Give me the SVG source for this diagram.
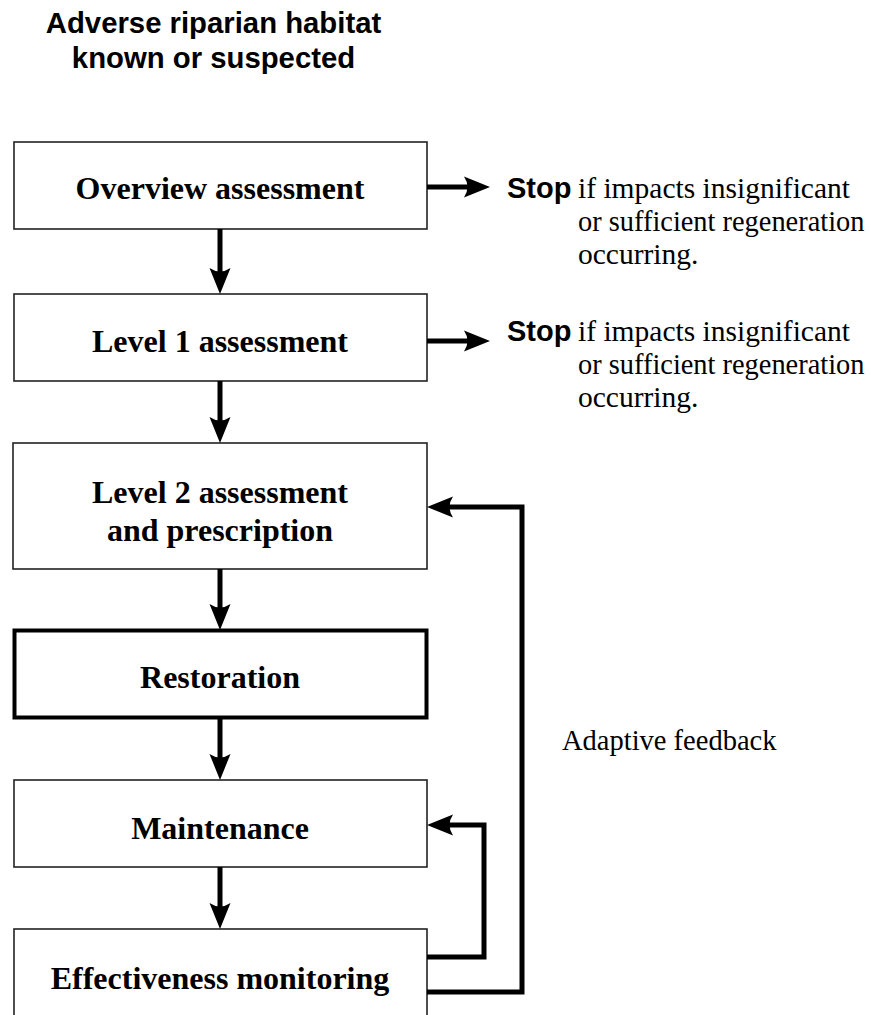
<svg xmlns="http://www.w3.org/2000/svg" width="871" height="1015" viewBox="0 0 871 1015">
<style>
.box{fill:#fff;stroke:#222;stroke-width:1.6}
.thick{fill:#fff;stroke:#000;stroke-width:4}
.lbl{font-family:"Liberation Serif","Times New Roman",serif;font-weight:bold;font-size:32px;text-anchor:middle;fill:#000}
.title{font-family:"Liberation Sans",Arial,sans-serif;font-weight:bold;font-size:29.3px;text-anchor:middle;fill:#000}
.note{font-family:"Liberation Serif","Times New Roman",serif;font-size:29.5px;fill:#000}
.narrow{font-size:28.4px}
.stop{font-family:"Liberation Sans",Arial,sans-serif;font-weight:bold;font-size:29px;fill:#000}
.wire{fill:none;stroke:#000;stroke-width:5}
</style>
<defs>
<path id="ah" d="M0,0 L-26,-10.5 Q-19,0 -26,10.5 Z" fill="#000"/>
</defs>
<rect width="871" height="1015" fill="#fff"/>

<g id="title">
<text class="title" x="213.5" y="33">Adverse riparian habitat</text>
<text class="title" x="213.5" y="68">known or suspected</text>
</g>

<g id="overview">
<rect class="box" x="14" y="142" width="413" height="87"/>
<text class="lbl" x="220" y="199">Overview assessment</text>
</g>
<g id="level1">
<rect class="box" x="14" y="294" width="413" height="87"/>
<text class="lbl" x="220" y="352">Level 1 assessment</text>
</g>
<g id="level2">
<rect class="box" x="13" y="443" width="414" height="126"/>
<text class="lbl" x="220" y="503">Level 2 assessment</text>
<text class="lbl" x="220" y="541">and prescription</text>
</g>
<g id="restoration">
<rect class="thick" x="14.5" y="630.5" width="412" height="87"/>
<text class="lbl" x="220" y="688">Restoration</text>
</g>
<g id="maintenance">
<rect class="box" x="14" y="780" width="413" height="87"/>
<text class="lbl" x="220" y="839">Maintenance</text>
</g>
<g id="monitoring">
<rect class="box" x="14" y="929" width="413" height="100"/>
<text class="lbl" x="220" y="989">Effectiveness monitoring</text>
</g>

<g id="stop1">
<text class="stop" x="507" y="198">Stop</text>
<text class="note" x="578" y="198">if impacts insignificant</text>
<text class="note narrow" x="578" y="231">or sufficient regeneration</text>
<text class="note" x="578" y="264">occurring.</text>
</g>
<g id="stop2">
<text class="stop" x="507" y="341">Stop</text>
<text class="note" x="578" y="341">if impacts insignificant</text>
<text class="note narrow" x="578" y="374">or sufficient regeneration</text>
<text class="note" x="578" y="407">occurring.</text>
</g>
<g id="feedback-label">
<text class="note" x="562" y="750" style="font-size:28.5px">Adaptive feedback</text>
</g>

<g id="connectors">
<path class="wire" d="M220,229 V276"/>
<use href="#ah" transform="translate(220,294) rotate(90)"/>
<path class="wire" d="M220,381 V425"/>
<use href="#ah" transform="translate(220,443) rotate(90)"/>
<path class="wire" d="M220,569 V612"/>
<use href="#ah" transform="translate(220,630) rotate(90)"/>
<path class="wire" d="M220,719 V762"/>
<use href="#ah" transform="translate(220,780) rotate(90)"/>
<path class="wire" d="M220,867 V911"/>
<use href="#ah" transform="translate(220,929) rotate(90)"/>

<path class="wire" d="M427,187 H472"/>
<use href="#ah" transform="translate(490,187)"/>
<path class="wire" d="M427,341 H472"/>
<use href="#ah" transform="translate(490,341)"/>

<path class="wire" d="M427,957 H484 V825 H446"/>
<use href="#ah" transform="translate(427,825) rotate(180)"/>
<path class="wire" d="M427,992 H522 V507 H446"/>
<use href="#ah" transform="translate(427,507) rotate(180)"/>
</g>
</svg>
